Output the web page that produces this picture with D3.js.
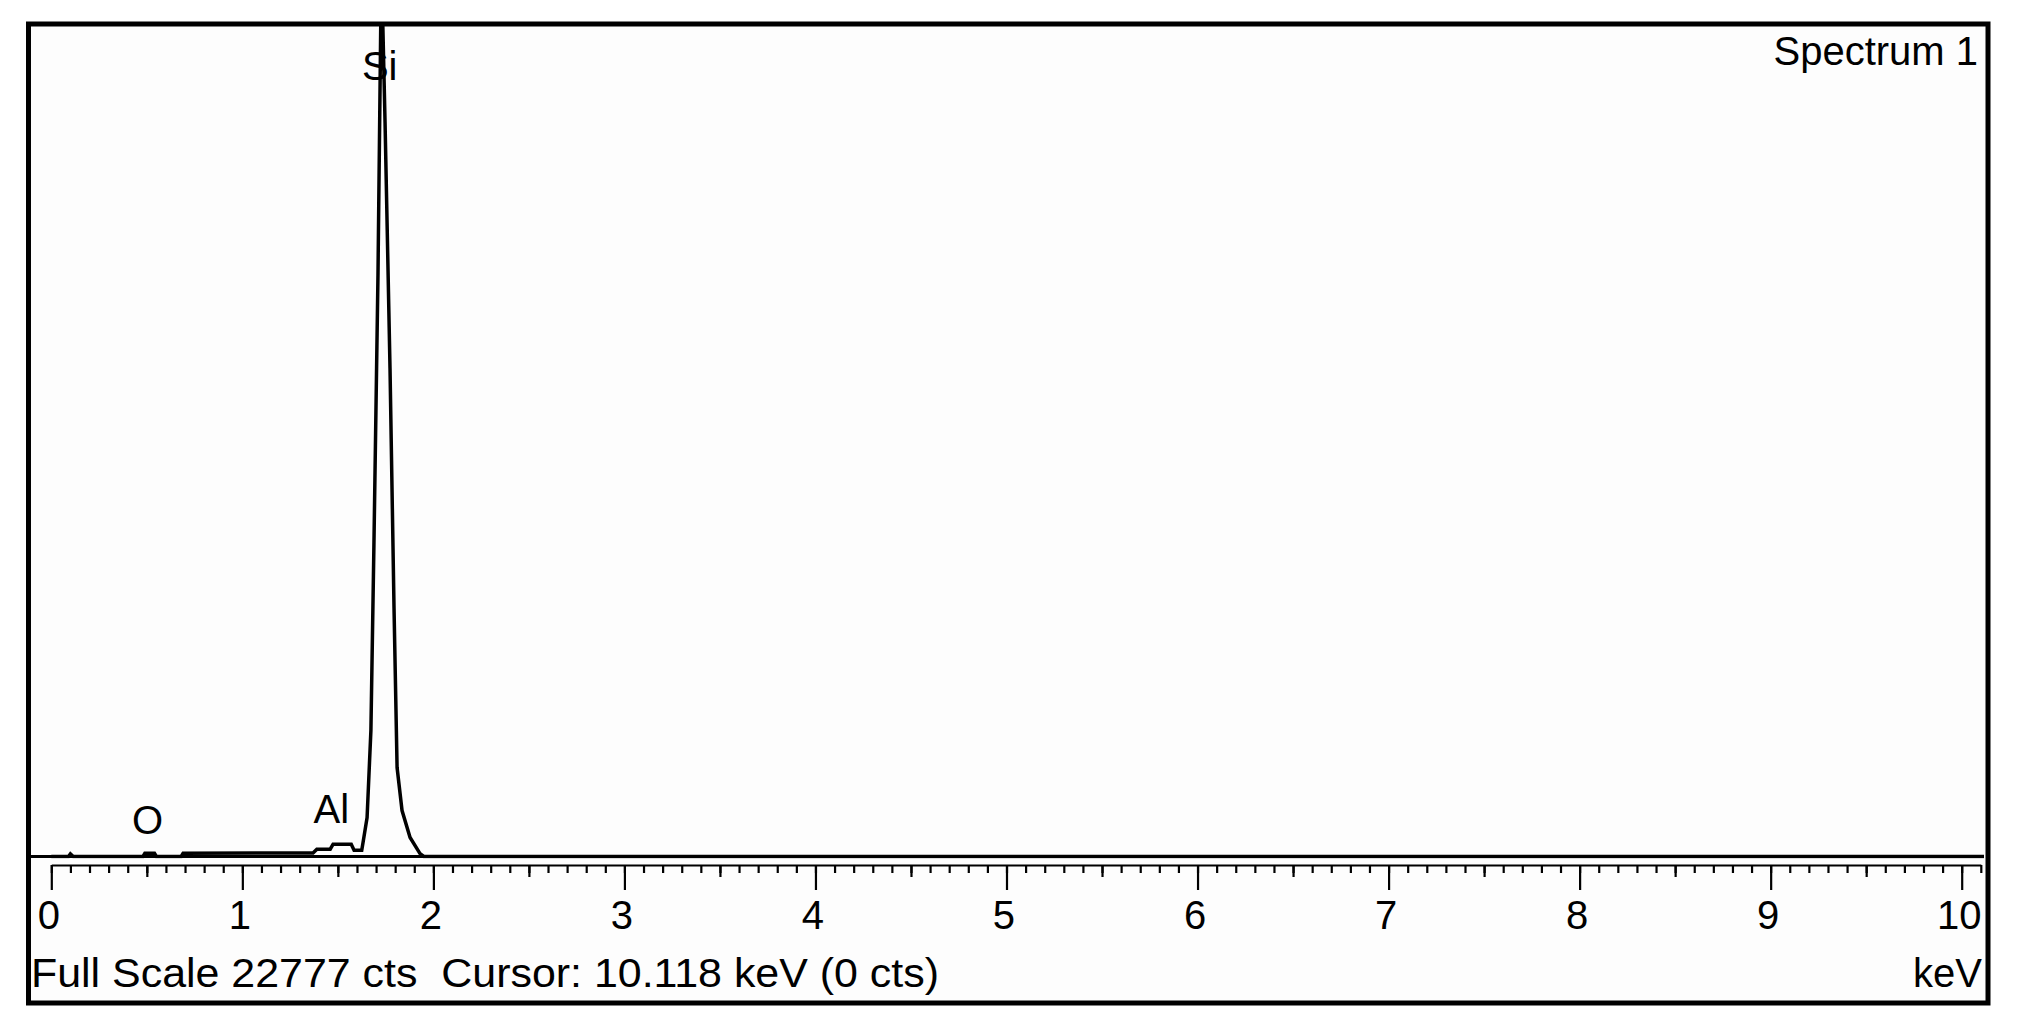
<!DOCTYPE html>
<html>
<head>
<meta charset="utf-8">
<script src="https://cdn.jsdelivr.net/npm/d3@7"></script>
<style>
  html, body { margin: 0; padding: 0; background: #fff; }
  svg { display: block; font-family: "Liberation Sans", Arial, sans-serif; }
</style>
</head>
<body>
<svg id="chart" width="2022" height="1033"></svg>
<script>
// EDS spectrum (counts per energy)
const energyKeV = [0.00, 0.09, 0.10, 0.115, 0.48, 0.49, 0.54, 0.55, 0.68, 0.69,
  1.37, 1.39, 1.46, 1.475, 1.57, 1.585, 1.625, 1.632, 1.653, 1.673, 1.689, 1.710,
  1.728, 1.747, 1.773, 1.794, 1.810, 1.836, 1.878, 1.930, 1.95, 10.12];
const countsCts = [0, 0, 70, 0, 0, 90, 90, 0, 0, 90,
  95, 200, 200, 336, 336, 170, 170, 390, 1070, 3460, 8620, 15940,
  24500, 20140, 13390, 6810, 2440, 1260, 520, 80, 0, 0];

const majorTicks = [0, 1, 2, 3, 4, 5, 6, 7, 8, 9, 10];
const peakNames = ["O", "Al", "Si"];
const peakEnergies = [0.525, 1.487, 1.740];
const fullScale = 22777;
const spectrumName = "Spectrum 1";
const statusText = "Full Scale 22777 cts  Cursor: 10.118 keV (0 cts)";
const unitLabel = "keV";

const svg = d3.select("#chart");

// frame + plot box
const frame = { left: 28.5, top: 24, right: 1988, bottom: 1003 };
const plot = { left: 31, top: 26, right: 1984, base: 856.5 };

svg.append("rect")
  .attr("x", frame.left).attr("y", frame.top)
  .attr("width", frame.right - frame.left).attr("height", frame.bottom - frame.top)
  .attr("fill", "#fdfdfd").attr("stroke", "#000").attr("stroke-width", 5);

const x = d3.scaleLinear().domain([0, 10.1]).range([51.3, 1980.8]);
const y = d3.scaleLinear().domain([0, fullScale]).range([plot.base, plot.top]);

svg.append("clipPath").attr("id", "plotclip")
  .append("rect")
  .attr("x", plot.left).attr("y", plot.top)
  .attr("width", plot.right - plot.left).attr("height", plot.base - plot.top + 2);

// spectrum trace
const pts = energyKeV.map((e, i) => [e, countsCts[i]]);
svg.append("path")
  .datum(pts)
  .attr("clip-path", "url(#plotclip)")
  .attr("fill", "none").attr("stroke", "#000").attr("stroke-width", 3.5)
  .attr("stroke-linejoin", "miter")
  .attr("d", d3.line().x((d) => x(d[0])).y((d) => y(d[1])));

// plot box bottom edge
svg.append("line")
  .attr("x1", plot.left).attr("x2", plot.right)
  .attr("y1", plot.base).attr("y2", plot.base)
  .attr("stroke", "#000").attr("stroke-width", 3);

// ruler axis: minor (0.1), medium (0.5), major (1)
const axisY = 865;
const minorTicks = d3.range(0, 102).map((i) => i / 10);
const midTicks = d3.range(0, 10).map((i) => i + 0.5);

const gMinor = svg.append("g").attr("transform", `translate(0,${axisY})`)
  .call(d3.axisBottom(x).tickValues(minorTicks).tickSize(8).tickSizeOuter(0).tickFormat(""));
const gMid = svg.append("g").attr("transform", `translate(0,${axisY})`)
  .call(d3.axisBottom(x).tickValues(midTicks).tickSize(12).tickSizeOuter(0).tickFormat(""));
const gMajor = svg.append("g").attr("transform", `translate(0,${axisY})`)
  .call(d3.axisBottom(x).tickValues(majorTicks).tickSize(25).tickSizeOuter(0)
    .tickFormat(d3.format("d")).tickPadding(11));

[gMinor, gMid, gMajor].forEach((g) => {
  g.selectAll("line").attr("stroke", "#000").attr("stroke-width", 2.2);
  g.select(".domain").attr("stroke", "#000").attr("stroke-width", 2.2);
});
gMid.select(".domain").remove();
gMajor.select(".domain").remove();
gMajor.selectAll("text")
  .attr("font-size", 40).attr("fill", "#000").attr("dx", -3)
  .attr("font-family", "\"Liberation Sans\", Arial, sans-serif");

// element labels
const labelBase = { O: 834, Al: 823, Si: 80 };
svg.append("g").selectAll("text").data(peakNames).join("text")
  .attr("x", (d, i) => x(peakEnergies[i]) - 4)
  .attr("y", (d) => labelBase[d])
  .attr("text-anchor", "middle")
  .attr("font-size", 40).attr("fill", "#000")
  .text((d) => d);

// header and status line
svg.append("text").attr("x", 1978).attr("y", 65).attr("text-anchor", "end")
  .attr("font-size", 40).attr("fill", "#000").text(spectrumName);

svg.append("text").attr("x", 31).attr("y", 987)
  .attr("font-size", 40).attr("fill", "#000")
  .style("white-space", "pre")
  .attr("textLength", 908).attr("lengthAdjust", "spacingAndGlyphs")
  .text(statusText);

svg.append("text").attr("x", 1982).attr("y", 987).attr("text-anchor", "end")
  .attr("font-size", 40).attr("fill", "#000").text(unitLabel);
</script>
</body>
</html>
